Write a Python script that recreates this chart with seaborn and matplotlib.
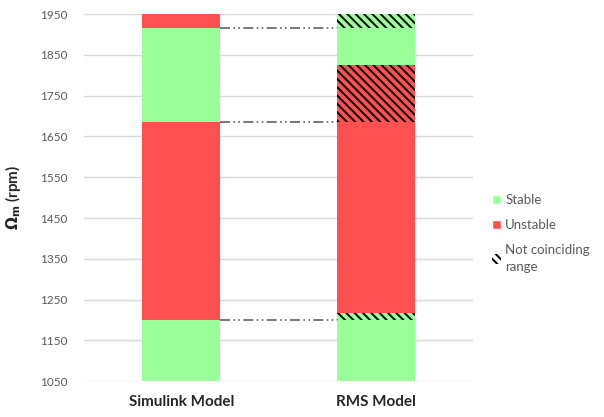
import matplotlib
matplotlib.use("Agg")
import matplotlib.pyplot as plt
import seaborn as sns
import pandas as pd
import numpy as np
from matplotlib.patches import Patch

# Data
models = ["Simulink Model", "RMS Model"]
# segment edges (rpm), bottom to top, per model
simulink_edges = [1050, 1200, 1685, 1915, 1950]
simulink_states = ["Stable", "Unstable", "Stable", "Unstable"]
simulink_mismatch = [False, False, False, False]

rms_edges = [1050, 1200, 1218, 1685, 1825, 1915, 1950]
rms_states = ["Stable", "Stable", "Unstable", "Unstable", "Stable", "Stable"]
rms_mismatch = [False, True, False, True, False, True]

# boundaries joined by the dash-dot lines
joined_levels = [1200, 1685, 1915]

y_ticks = list(range(1050, 1951, 100))

colors = {"Stable": "#99FF99", "Unstable": "#FF5050"}
HATCH = "\\" * 4

rows = []
for model, edges, states, mism in [
    (models[0], simulink_edges, simulink_states, simulink_mismatch),
    (models[1], rms_edges, rms_states, rms_mismatch),
]:
    for i, st in enumerate(states):
        rows.append({"model": model, "top": edges[i + 1], "state": st, "mismatch": mism[i]})
seg = pd.DataFrame(rows)

sns.set_style("white")
plt.rcParams["font.family"] = ["Lato", "DejaVu Sans"]
plt.rcParams["hatch.linewidth"] = 1.4

fig = plt.figure(figsize=(6.04, 4.17), dpi=100)
ax = fig.add_axes([0.139, 0.086, 0.644, 0.88])

ax.set_axisbelow(True)
ax.grid(axis="y", color="#D9D9D9", linewidth=1)

# stacked bars: draw tallest first so lower segments cover it
for _, r in seg.sort_values("top", ascending=False).iterrows():
    sns.barplot(x=[r["model"]], y=[r["top"]], order=models, ax=ax,
                color=colors[r["state"]], saturation=1, width=0.4,
                hatch=HATCH if r["mismatch"] else None,
                edgecolor="black", linewidth=0)

ax.hlines(joined_levels, 0.2, 0.8, colors="#606060", linewidth=1.2,
          linestyles=[(0, (6, 2, 1, 2, 1, 2))])

ax.set_xlim(-0.5, 1.5)
ax.set_ylim(1050, 1950)
ax.set_yticks(y_ticks)
ax.tick_params(axis="y", labelsize=8.5, labelcolor="#595959", length=0, pad=12)
ax.tick_params(axis="x", length=0, pad=10)
for lbl in ax.get_xticklabels():
    lbl.set_fontsize(11)
    lbl.set_fontweight("bold")
ax.set_xlabel("")
ax.set_ylabel(r"$\mathbf{\Omega_m}$ (rpm)", fontsize=11, fontweight="bold", labelpad=12)
sns.despine(ax=ax, left=True, bottom=True)

handles = [
    Patch(facecolor=colors["Stable"], label="Stable"),
    Patch(facecolor=colors["Unstable"], label="Unstable"),
    Patch(facecolor="white", edgecolor="black", linewidth=0, hatch=HATCH,
          label="Not coinciding\nrange"),
]
leg = fig.legend(handles=handles, loc="center left", bbox_to_anchor=(0.795, 0.44),
                 frameon=False, fontsize=9.5, handlelength=0.7, handleheight=0.7,
                 handletextpad=0.3, labelspacing=1.0)
for t in leg.get_texts():
    t.set_color("#595959")
    t.set_linespacing(1.5)

fig.savefig("out.png", dpi=100)
